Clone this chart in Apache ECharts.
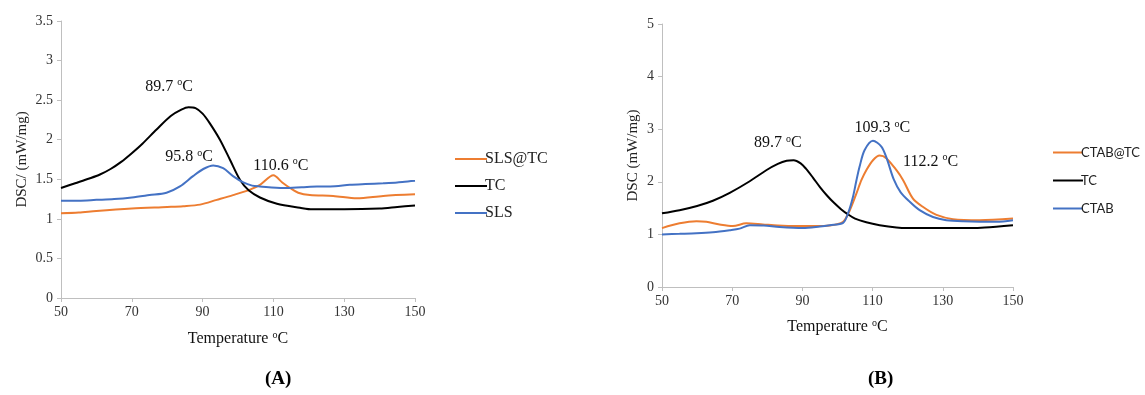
<!DOCTYPE html>
<html>
<head>
<meta charset="utf-8">
<script src="https://cdn.jsdelivr.net/npm/echarts@6/dist/echarts.min.js"></script>
<style>
  html, body { margin: 0; padding: 0; background: #fff; }
  #main { width: 1145px; height: 395px; }
</style>
</head>
<body>
<div id="main"></div>
<script>
// panel A: SLS
const tA_tc = [50, 54, 58, 61, 64, 67, 70, 73, 77, 81, 84, 86, 88, 90, 92, 94.9, 97.7, 100.6, 103, 106.2, 111, 117.5, 121, 130, 140, 145, 150];
const vA_tc = [1.39, 1.45, 1.51, 1.56, 1.63, 1.72, 1.83, 1.95, 2.13, 2.30, 2.38, 2.41, 2.40, 2.33, 2.21, 2.0, 1.75, 1.49, 1.36, 1.27, 1.19, 1.14, 1.12, 1.12, 1.13, 1.15, 1.17];
const tA_sls = [50, 55, 60, 65, 70, 75, 79.8, 83.6, 87.3, 90.2, 93, 95.8, 98.6, 101.5, 104, 106.2, 112.8, 118, 122.3, 126, 131.6, 136, 141, 145, 150];
const vA_sls = [1.23, 1.23, 1.24, 1.25, 1.27, 1.30, 1.33, 1.41, 1.54, 1.63, 1.675, 1.64, 1.54, 1.46, 1.42, 1.41, 1.39, 1.40, 1.41, 1.41, 1.43, 1.44, 1.45, 1.46, 1.48];
const tA_mix = [50, 55, 60, 70, 80, 84.5, 89.3, 94, 98.6, 103.4, 106.2, 110, 112.5, 114.7, 117, 120.3, 126.9, 133.6, 141, 150];
const vA_mix = [1.07, 1.08, 1.10, 1.13, 1.15, 1.16, 1.18, 1.24, 1.30, 1.37, 1.43, 1.55, 1.46, 1.39, 1.33, 1.30, 1.29, 1.26, 1.29, 1.31];

// panel B: CTAB
const tB_tc = [50, 55, 60, 64.5, 69.3, 75, 79.7, 83, 85.5, 87.5, 89.5, 91, 93, 95, 97, 99, 101, 103, 105, 108.2, 112, 116.8, 120, 130, 138, 142, 150];
const vB_tc = [1.40, 1.46, 1.54, 1.64, 1.79, 2.01, 2.22, 2.34, 2.40, 2.41, 2.35, 2.25, 2.08, 1.90, 1.74, 1.60, 1.48, 1.38, 1.30, 1.23, 1.175, 1.13, 1.12, 1.12, 1.12, 1.13, 1.175];
const tB_ctab = [50, 55, 59.8, 64.5, 69.3, 72.1, 75, 79, 83.5, 90.1, 95, 97.8, 101.6, 103, 104.4, 105.4, 106.3, 107.7, 110.1, 112.5, 114, 116, 118, 120.6, 123.4, 127.2, 131, 135.8, 145.3, 150];
const vB_ctab = [1.0, 1.01, 1.02, 1.04, 1.08, 1.11, 1.175, 1.17, 1.14, 1.12, 1.15, 1.175, 1.22, 1.40, 1.71, 2.03, 2.29, 2.6, 2.78, 2.67, 2.45, 2.05, 1.8, 1.62, 1.46, 1.33, 1.27, 1.25, 1.24, 1.27];
const tB_mix = [50, 55, 59.8, 62.6, 66.4, 70.2, 74, 78.7, 83, 88.3, 93, 97.8, 101.6, 103.5, 105.4, 106.8, 108.2, 110.1, 112, 113.9, 116.8, 118.7, 121.5, 124.4, 128.2, 132.9, 140.5, 150];
const vB_mix = [1.12, 1.21, 1.25, 1.24, 1.19, 1.16, 1.21, 1.19, 1.17, 1.16, 1.16, 1.17, 1.24, 1.46, 1.78, 2.03, 2.22, 2.41, 2.50, 2.45, 2.22, 2.03, 1.68, 1.52, 1.37, 1.29, 1.27, 1.30];

// peak labels: [temperature, dsc, text]
const peaksA = [[80.5, 2.67, '89.7 '], [86.2, 1.78, '95.8 '], [112.1, 1.67, '110.6 ']];
const peaksB = [[83, 2.74, '89.7 '], [112.8, 3.02, '109.3 '], [126.5, 2.38, '112.2 ']];

const serif = 'Liberation Serif';
const ORANGE = '#ED7D31', BLACK = '#000000', BLUE = '#4472C4';

function pairs(t, v) {
    return t.map((x, i) => [x, v[i]]);
}

const degRich = {
    a: { fontFamily: serif, fontSize: 16, color: '#111', lineHeight: 18 },
    s: { fontFamily: serif, fontSize: 10, color: '#111', lineHeight: 11, verticalAlign: 'top' }
};

function peakMarks(list) {
    return {
        silent: true,
        symbol: 'circle',
        symbolSize: 0,
        label: {
            show: true,
            position: 'inside',
            formatter: p => '{a|' + p.name + '}{s|o}{a|C}',
            rich: degRich
        },
        data: list.map(p => ({ name: p[2], coord: [p[0], p[1]] }))
    };
}

function line(name, t, v, color, xi, marks) {
    const s = {
        name: name,
        type: 'line',
        xAxisIndex: xi,
        yAxisIndex: xi,
        data: pairs(t, v),
        showSymbol: false,
        smooth: 0.3,
        lineStyle: { color: color, width: 2 },
        itemStyle: { color: color },
        z: 3
    };
    if (marks) s.markPoint = peakMarks(marks);
    return s;
}

function xAx(gi) {
    return {
        type: 'value', gridIndex: gi, min: 50, max: 150, interval: 20,
        name: '{a|Temperature }{s|o}{a|C}',
        nameLocation: 'middle', nameGap: gi === 0 ? 32 : 31,
        nameTextStyle: { rich: degRich },
        axisLine: { show: true, lineStyle: { color: '#bfbfbf', width: 1 } },
        axisTick: { show: true, length: 4, lineStyle: { color: '#bfbfbf' } },
        axisLabel: { fontFamily: serif, fontSize: 14, color: '#333', margin: 7 },
        splitLine: { show: false }
    };
}

function yAx(gi, max, interval, title) {
    return {
        type: 'value', gridIndex: gi, min: 0, max: max, interval: interval,
        name: title, nameLocation: 'middle', nameGap: gi === 0 ? 31 : 21,
        nameTextStyle: { fontFamily: serif, fontSize: 15, color: '#222' },
        axisLine: { show: true, lineStyle: { color: '#bfbfbf', width: 1 } },
        axisTick: { show: true, length: 4, lineStyle: { color: '#bfbfbf' } },
        axisLabel: { fontFamily: serif, fontSize: 14, color: '#333', margin: 8 },
        splitLine: { show: false }
    };
}

const chart = echarts.init(document.getElementById('main'), null, { renderer: 'canvas' });

chart.setOption({
    backgroundColor: '#fff',
    animation: false,
    grid: [
        { left: 61, right: 730, top: 21, bottom: 97 },
        { left: 662, right: 132, top: 24, bottom: 108 }
    ],
    xAxis: [xAx(0), xAx(1)],
    yAxis: [yAx(0, 3.5, 0.5, 'DSC/ (mW/mg)'), yAx(1, 5, 1, 'DSC (mW/mg)')],
    legend: [
        {
            data: ['SLS@TC', 'TC', 'SLS'],
            orient: 'vertical', left: 450, top: 146,
            itemWidth: 32, itemHeight: 2, itemGap: 11, icon: 'rect',
            selectedMode: false,
            textStyle: { fontFamily: serif, fontSize: 16, color: '#222', padding: [0, 0, 0, -7] }
        },
        {
            data: ['CTAB@TC', 'TC', 'CTAB'],
            orient: 'vertical', left: 1048, top: 141,
            itemWidth: 30, itemHeight: 2, itemGap: 15, icon: 'rect',
            selectedMode: false,
            textStyle: { fontFamily: 'Lato', fontSize: 13, color: '#222', padding: [0, 0, 0, -7] }
        }
    ],
    series: [
        line('SLS@TC', tA_mix, vA_mix, ORANGE, 0, [peaksA[2]]),
        line('TC', tA_tc, vA_tc, BLACK, 0, [peaksA[0]]),
        line('SLS', tA_sls, vA_sls, BLUE, 0, [peaksA[1]]),
        line('CTAB@TC', tB_mix, vB_mix, ORANGE, 1, [peaksB[2]]),
        line('TC', tB_tc, vB_tc, BLACK, 1, [peaksB[0]]),
        line('CTAB', tB_ctab, vB_ctab, BLUE, 1, [peaksB[1]])
    ],
    graphic: [
        {
            type: 'text', left: 265, top: 370,
            style: { text: '(A)', font: 'bold 19px "Liberation Serif"', fill: '#000' }
        },
        {
            type: 'text', left: 868, top: 370,
            style: { text: '(B)', font: 'bold 19px "Liberation Serif"', fill: '#000' }
        }
    ]
});
</script>
</body>
</html>
